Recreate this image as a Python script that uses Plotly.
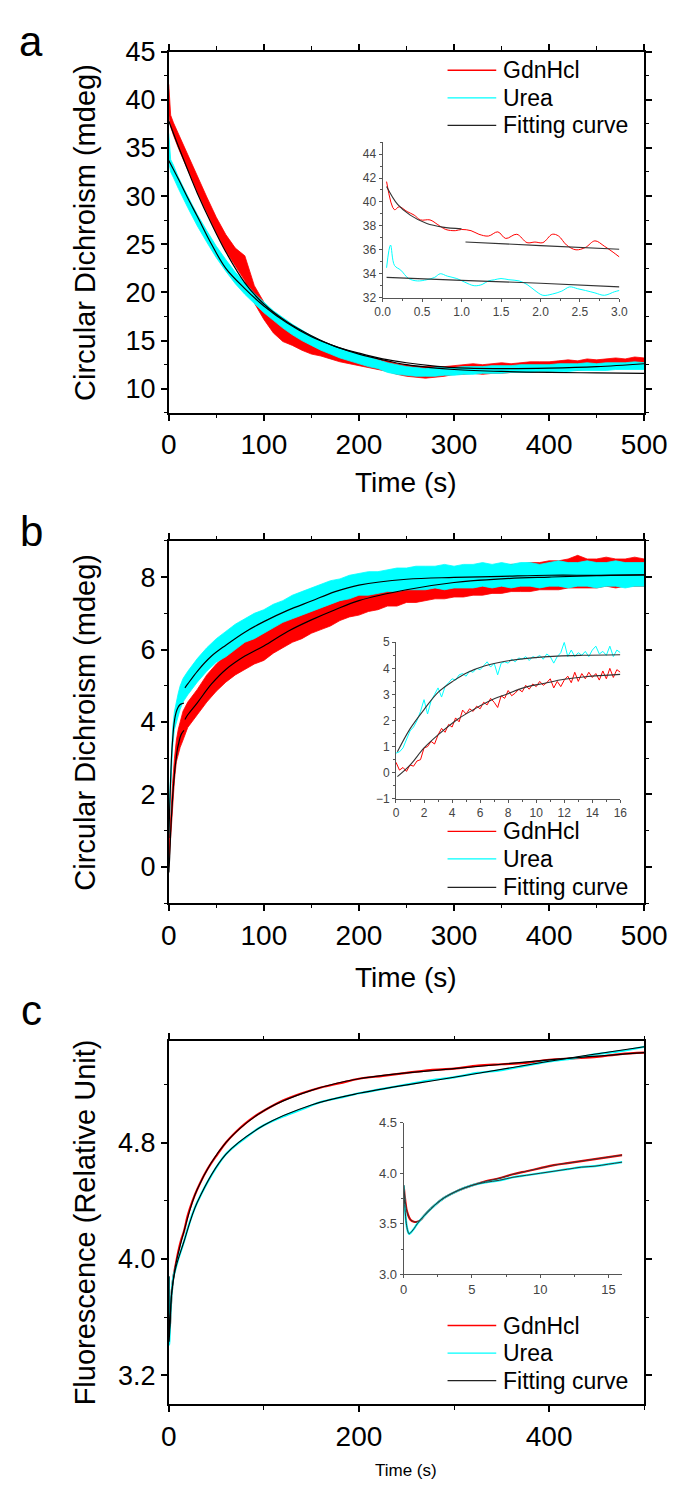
import plotly.graph_objects as go

# ---------------- DATA ----------------
# Panel a (CD, mdeg): noisy traces read as lower / upper envelope of the noise band
t_a = [0, 1, 2, 5] + list(range(10, 510, 10))
gdn_a_lo = [38.5, 37.5, 37.2, 36.3,
            35.0, 32.7, 30.4, 28.3, 26.2, 24.3, 22.8, 21.2, 18.9, 17.2,
            15.8, 14.9, 14.5, 14.0, 13.6, 13.4, 13.1, 12.8, 12.6, 12.4,
            12.2, 12.0, 11.8, 11.5, 11.3, 11.2, 11.1, 11.2, 11.3, 11.5,
            11.5, 11.6, 11.5, 11.6, 11.6, 11.7, 11.7, 11.7, 11.8, 11.8,
            11.9, 11.9, 11.9, 12.0, 12.1, 12.1, 12.2, 12.2, 12.3, 12.3]
gdn_a_hi = [41.6, 39.0, 38.4, 37.6,
            36.5, 34.3, 32.0, 29.9, 27.8, 26.0, 24.6, 23.8, 20.7, 19.0,
            17.8, 17.0, 16.2, 15.6, 15.0, 14.6, 14.3, 14.0, 13.7, 13.5,
            13.3, 13.1, 12.9, 12.6, 12.5, 12.3, 12.3, 12.3, 12.3, 12.4,
            12.5, 12.6, 12.5, 12.6, 12.7, 12.6, 12.7, 12.8, 12.8, 12.8,
            12.9, 13.0, 12.9, 13.1, 13.0, 13.1, 13.2, 13.1, 13.3, 13.2]
urea_a_lo = [33.5, 32.8, 32.5, 31.9,
             30.8, 28.8, 26.9, 25.2, 23.6, 22.2, 20.9, 19.8, 18.8, 17.9,
             17.1, 16.3, 15.6, 15.0, 14.5, 14.0, 13.6, 13.2, 12.9, 12.6,
             12.3, 12.1, 11.7, 11.5, 11.4, 11.3, 11.3, 11.3, 11.4, 11.4,
             11.5, 11.5, 11.6, 11.6, 11.6, 11.7, 11.7, 11.7, 11.8, 11.8,
             11.8, 11.8, 11.9, 11.9, 11.9, 11.9, 12.0, 12.0, 12.0, 12.0]
urea_a_hi = [36.5, 34.5, 33.8, 33.2,
             32.0, 30.0, 28.1, 26.4, 24.8, 23.4, 22.1, 21.0, 19.9, 19.0,
             18.1, 17.4, 16.7, 16.1, 15.5, 15.0, 14.6, 14.2, 13.9, 13.6,
             13.3, 13.0, 12.7, 12.5, 12.3, 12.2, 12.1, 12.2, 12.2, 12.2,
             12.3, 12.3, 12.3, 12.4, 12.4, 12.4, 12.5, 12.5, 12.5, 12.5,
             12.6, 12.6, 12.6, 12.7, 12.6, 12.7, 12.7, 12.7, 12.8, 12.7]
fit_a_t = [0, 10, 20, 30, 45, 60, 80, 100, 125, 150, 175, 200, 225, 250, 275, 300, 350, 400, 450, 500]
fit_gdn_a = [37.8, 35.2, 32.7, 30.3, 27.1, 24.2, 21.0, 18.8, 16.9, 15.5, 14.4, 13.7, 13.1, 12.7, 12.4, 12.2, 12.1, 12.15, 12.3, 12.6]
fit_urea_a = [33.7, 31.8, 29.8, 27.9, 25.0, 22.5, 20.4, 18.6, 16.8, 15.4, 14.4, 13.6, 13.0, 12.5, 12.2, 12.0, 11.8, 11.7, 11.65, 11.6]

# Panel a inset (0-3 s)
ins_a_gdn_t = [0.05, 0.15, 0.21, 0.31, 0.4, 0.48, 0.6, 0.7, 0.8, 0.92, 1.0, 1.12, 1.22, 1.34, 1.46,
               1.56, 1.7, 1.83, 1.93, 2.03, 2.15, 2.23, 2.33, 2.45, 2.57, 2.69, 2.81, 2.92, 3.0]
ins_a_gdn = [41.7, 39.35, 39.6, 39.2, 38.9, 38.5, 38.5, 38.1, 37.7, 37.6, 37.7, 37.6, 37.3, 37.15, 37.5,
             36.95, 37.3, 36.6, 36.65, 36.6, 37.3, 37.15, 36.4, 36.0, 36.2, 36.75, 36.3, 35.8, 35.4]
ins_a_urea_t = [0.05, 0.1, 0.15, 0.23, 0.33, 0.44, 0.56, 0.66, 0.73, 0.82, 0.94, 1.04, 1.16, 1.26, 1.34, 1.42,
                1.5, 1.6, 1.73, 1.83, 1.93, 2.03, 2.15, 2.27, 2.37, 2.47, 2.57, 2.69, 2.81, 2.94, 3.0]
ins_a_urea = [34.5, 36.4, 34.7, 34.3, 33.6, 33.4, 33.5, 33.7, 34.0, 33.8, 33.6, 33.3, 33.0, 33.1, 33.4, 33.5,
              33.6, 33.5, 33.4, 33.1, 32.6, 32.2, 32.3, 32.55, 32.9, 32.75, 32.6, 32.4, 32.2, 32.5, 32.6]
ins_a_fit_gdn1_t = [0.05, 0.19, 0.35, 0.56, 0.76, 1.0]
ins_a_fit_gdn1 = [41.3, 39.8, 38.9, 38.2, 37.9, 37.75]
ins_a_fit_gdn2_t = [1.05, 2.0, 3.0]
ins_a_fit_gdn2 = [36.65, 36.35, 36.05]
ins_a_fit_urea_t = [0.05, 1.0, 2.0, 3.0]
ins_a_fit_urea = [33.7, 33.45, 33.2, 32.9]

# Panel b main (noise band envelopes)
t_b = [0, 1, 2, 3, 4, 6, 8, 10, 12, 15] + list(range(20, 510, 10))
gdn_b_lo = [0.0, 0.4, 0.9, 1.4, 1.8, 2.4, 2.9, 3.1, 3.3, 3.5,
            3.85, 4.2, 4.55, 4.85, 5.1, 5.3, 5.45, 5.6, 5.7, 5.9,
            6.05, 6.2, 6.3, 6.45, 6.55, 6.65, 6.8, 6.9, 6.95, 7.05,
            7.1, 7.2, 7.2, 7.3, 7.3, 7.35, 7.4, 7.4, 7.45, 7.45,
            7.5, 7.5, 7.55, 7.55, 7.6, 7.6, 7.6, 7.65, 7.65, 7.65,
            7.7, 7.7, 7.7, 7.7, 7.75, 7.7, 7.75, 7.75, 7.75]
gdn_b_hi = [0.4, 0.9, 1.4, 1.9, 2.3, 3.0, 3.5, 3.8, 4.0, 4.3,
            4.55, 4.9, 5.3, 5.6, 5.85, 6.05, 6.25, 6.4, 6.55, 6.7,
            6.85, 7.0, 7.1, 7.2, 7.3, 7.45, 7.55, 7.6, 7.7, 7.8,
            7.85, 7.9, 7.95, 8.0, 8.05, 8.1, 8.1, 8.15, 8.15, 8.2,
            8.25, 8.25, 8.3, 8.3, 8.35, 8.35, 8.4, 8.4, 8.45, 8.45,
            8.5, 8.6, 8.5, 8.5, 8.55, 8.5, 8.5, 8.55, 8.5]
urea_b_lo = [0.9, 1.5, 2.2, 2.8, 3.3, 3.8, 4.0, 4.2, 4.35, 4.55,
             4.75, 5.1, 5.4, 5.65, 5.8, 6.0, 6.2, 6.3, 6.45, 6.6,
             6.75, 6.85, 6.95, 7.05, 7.15, 7.25, 7.35, 7.4, 7.5, 7.5,
             7.55, 7.6, 7.6, 7.65, 7.65, 7.65, 7.7, 7.65, 7.7, 7.7,
             7.7, 7.75, 7.7, 7.75, 7.7, 7.75, 7.75, 7.7, 7.75, 7.75,
             7.7, 7.75, 7.75, 7.7, 7.75, 7.75, 7.7, 7.75, 7.75]
urea_b_hi = [1.4, 2.1, 2.8, 3.4, 3.8, 4.3, 4.6, 4.8, 5.0, 5.2,
             5.4, 5.75, 6.05, 6.3, 6.5, 6.7, 6.85, 7.0, 7.1, 7.25,
             7.35, 7.5, 7.6, 7.7, 7.8, 7.9, 7.95, 8.05, 8.1, 8.15,
             8.15, 8.2, 8.25, 8.25, 8.3, 8.3, 8.3, 8.35, 8.3, 8.35,
             8.35, 8.4, 8.35, 8.4, 8.35, 8.4, 8.4, 8.35, 8.4, 8.45,
             8.4, 8.4, 8.45, 8.4, 8.4, 8.45, 8.4, 8.4, 8.4]
fit_b1_gdn_t = [0.1, 1, 2, 3, 4.4, 5.6, 6.7, 7.9, 9.2, 10.6, 12, 13.5, 16]
fit_b1_gdn = [-0.15, 0.29, 0.95, 1.45, 2.05, 2.44, 2.76, 3.01, 3.27, 3.43, 3.58, 3.68, 3.77]
fit_b1_urea_t = [0.1, 1, 2, 3, 4.1, 5.1, 6.3, 7.9, 9.7, 11.5, 13.3, 16]
fit_b1_urea = [0.8, 1.68, 2.42, 3.08, 3.52, 3.84, 4.09, 4.28, 4.4, 4.47, 4.5, 4.52]
fit_b2_t = [17, 20, 30, 45, 60, 80, 100, 125, 150, 175, 200, 250, 300, 350, 400, 450, 500]
fit_b2_gdn = [4.07, 4.2, 4.53, 5.05, 5.45, 5.82, 6.1, 6.5, 6.82, 7.1, 7.35, 7.65, 7.85, 7.95, 8.0, 8.04, 8.06]
fit_b2_urea = [4.94, 5.05, 5.4, 5.82, 6.12, 6.48, 6.77, 7.08, 7.34, 7.6, 7.78, 7.94, 7.99, 8.02, 8.05, 8.05, 8.06]

# Panel b inset (0-16 s, 0.25 s sampling)
ins_b_t = [i * 0.25 for i in range(65)]
ins_b_urea = [0.75, 0.8, 0.95, 1.3, 1.6, 1.75, 2.0, 2.35, 2.8, 2.25, 2.75, 3.0,
              3.25, 2.9, 3.3, 3.45, 3.6, 3.55, 3.75, 3.8, 3.7, 3.9, 3.85, 4.0,
              3.95, 4.1, 4.25, 4.05, 4.2, 3.75, 4.2, 4.25, 4.2, 4.35, 4.25, 4.4,
              4.35, 4.45, 4.3, 4.45, 4.4, 4.5, 4.35, 4.55, 4.45, 4.2, 4.45, 4.6,
              5.0, 4.45, 4.7, 4.45, 4.6, 4.5, 4.65, 4.45, 4.7, 4.85, 4.55, 4.65,
              4.5, 4.85, 4.45, 4.7, 4.6]
ins_b_gdn = [0.4, 0.1, 0.2, 0.05, 0.3, 0.25, 0.45, 0.5, 0.95, 1.0, 1.2, 1.1,
             1.45, 1.7, 1.55, 1.85, 1.75, 2.1, 1.95, 2.4, 2.25, 2.45, 2.35, 2.55,
             2.45, 2.7, 2.6, 2.85, 2.7, 2.5, 2.95, 2.85, 3.15, 2.95, 3.05, 3.2,
             3.1, 3.35, 3.2, 3.4, 3.3, 3.5, 3.35, 3.45, 3.6, 3.25, 3.5, 3.3,
             3.55, 3.7, 3.45, 3.85, 3.5, 3.8, 3.6, 3.85, 3.65, 3.8, 3.55, 3.9,
             3.6, 4.0, 3.65, 3.95, 3.85]

# Panel c main (fluorescence)
t_c = [0, 0.5, 1, 2, 3, 5, 7, 10, 13, 16, 20, 25, 30, 40, 50, 60, 70, 80, 90, 100,
       120, 140, 160, 180, 200, 225, 250, 275, 300, 325, 350, 375, 400, 425, 450, 475, 500]
gdn_c = [3.88, 3.54, 3.52, 3.65, 3.76, 3.88, 3.95, 4.05, 4.13, 4.19, 4.30, 4.40, 4.48, 4.61, 4.71, 4.80, 4.87, 4.93, 4.98, 5.02,
         5.09, 5.14, 5.18, 5.21, 5.24, 5.26, 5.28, 5.30, 5.31, 5.33, 5.34, 5.35, 5.37, 5.38, 5.39, 5.41, 5.42]
urea_c = [3.88, 3.41, 3.5, 3.65, 3.76, 3.88, 3.93, 4.0, 4.06, 4.12, 4.21, 4.31, 4.39, 4.52, 4.63, 4.72, 4.78, 4.83, 4.88, 4.92,
          4.98, 5.03, 5.08, 5.11, 5.14, 5.17, 5.2, 5.23, 5.25, 5.28, 5.30, 5.33, 5.36, 5.38, 5.41, 5.43, 5.46]
fit_c_t = [0, 0.3, 1, 3, 7, 16, 30, 60, 100, 150, 200, 300, 400, 500]
fit_c_gdn = [3.88, 3.6, 3.52, 3.76, 3.95, 4.19, 4.48, 4.80, 5.02, 5.16, 5.24, 5.31, 5.37, 5.42]
fit_c_urea = [3.88, 3.43, 3.5, 3.76, 3.93, 4.12, 4.39, 4.72, 4.92, 5.06, 5.14, 5.25, 5.36, 5.46]

# Panel c inset (0-16 s)
ins_c_gdn_t = [0, 0.1, 0.25, 0.5, 0.75, 1.0, 1.25, 1.5, 2, 2.5, 3, 4, 5, 6, 7, 8, 9, 10, 11, 12, 13, 14, 15, 16]
ins_c_gdn = [3.88, 3.75, 3.62, 3.54, 3.52, 3.52, 3.54, 3.58, 3.65, 3.71, 3.76, 3.83, 3.88, 3.92, 3.95, 3.99, 4.02, 4.05, 4.08, 4.10, 4.12, 4.14, 4.16, 4.18]
ins_c_urea_t = [0, 0.1, 0.2, 0.3, 0.4, 0.5, 0.75, 1.0, 1.5, 2, 2.5, 3, 4, 5, 6, 7, 8, 9, 10, 11, 12, 13, 14, 15, 16]
ins_c_urea = [3.88, 3.65, 3.5, 3.43, 3.40, 3.41, 3.45, 3.5, 3.58, 3.65, 3.71, 3.76, 3.83, 3.88, 3.91, 3.93, 3.96, 3.98, 4.0, 4.02, 4.04, 4.06, 4.07, 4.09, 4.11]

legend_names = ["GdnHcl", "Urea", "Fitting curve"]
panel_letters = ["a", "b", "c"]
y_titles = ["Circular Dichroism (mdeg)", "Circular Dichroism (mdeg)", "Fluorescence (Relative Unit)"]
x_title = "Time (s)"

# ---------------- STYLE / LAYOUT ----------------
W, H = 685, 1485
FONT = "Liberation Sans, Arial, sans-serif"
RED, CYAN, BLACK = "#ff0000", "#00ffff", "#000000"
INS_GRAY = "#555555"
SERIES_COLORS = [RED, CYAN, "#222222"]


def xd(l, r):
    return [l / W, r / W]


def yd(top, bottom):
    return [1 - bottom / H, 1 - top / H]


fig = go.Figure()


def add(x, y, xa, ya, color, width, shape="linear", fill=None):
    fig.add_trace(go.Scatter(x=x, y=y, xaxis=xa, yaxis=ya, mode="lines",
                             line=dict(color=color, width=width, shape=shape),
                             fill=fill, fillcolor=color if fill else None,
                             showlegend=False, hoverinfo="skip"))


def band(x, lo, hi, xa, ya, color):
    add(x, lo, xa, ya, color, 0.8)
    add(x, hi, xa, ya, color, 0.8, fill="tonexty")


# panel a
band(t_a, gdn_a_lo, gdn_a_hi, "x", "y", RED)
band(t_a, urea_a_lo, urea_a_hi, "x", "y", CYAN)
add(fit_a_t, fit_gdn_a, "x", "y", BLACK, 1.2, "spline")
add(fit_a_t, fit_urea_a, "x", "y", BLACK, 1.2, "spline")
add(ins_a_gdn_t, ins_a_gdn, "x2", "y2", RED, 1, "spline")
add(ins_a_urea_t, ins_a_urea, "x2", "y2", CYAN, 1, "spline")
add(ins_a_fit_gdn1_t, ins_a_fit_gdn1, "x2", "y2", "#333333", 1.1, "spline")
add(ins_a_fit_gdn2_t, ins_a_fit_gdn2, "x2", "y2", "#333333", 1.1, "spline")
add(ins_a_fit_urea_t, ins_a_fit_urea, "x2", "y2", "#333333", 1.1, "spline")

# panel b
band(t_b, gdn_b_lo, gdn_b_hi, "x3", "y4", RED)
band(t_b, urea_b_lo, urea_b_hi, "x3", "y4", CYAN)
add(fit_b2_t, fit_b2_gdn, "x3", "y4", BLACK, 1.2, "spline")
add(fit_b2_t, fit_b2_urea, "x3", "y4", BLACK, 1.2, "spline")
add(fit_b1_gdn_t, fit_b1_gdn, "x3", "y4", BLACK, 1.2, "spline")
add(fit_b1_urea_t, fit_b1_urea, "x3", "y4", BLACK, 1.2, "spline")
add(ins_b_t, ins_b_gdn, "x4", "y5", RED, 1)
add(ins_b_t, ins_b_urea, "x4", "y5", CYAN, 1)
add(fit_b1_gdn_t, fit_b1_gdn, "x4", "y5", "#333333", 1.1, "spline")
add(fit_b1_urea_t, fit_b1_urea, "x4", "y5", "#333333", 1.1, "spline")

# panel c
add(t_c, gdn_c, "x5", "y7", RED, 2.2, "spline")
add(t_c, urea_c, "x5", "y7", CYAN, 2.2, "spline")
add(fit_c_t, fit_c_gdn, "x5", "y7", BLACK, 1.1, "spline")
add(fit_c_t, fit_c_urea, "x5", "y7", BLACK, 1.1, "spline")
add(ins_c_gdn_t, ins_c_gdn, "x6", "y8", RED, 2.2, "spline")
add(ins_c_urea_t, ins_c_urea, "x6", "y8", CYAN, 2.2, "spline")
add(ins_c_gdn_t, ins_c_gdn, "x6", "y8", "#333333", 1, "spline")
add(ins_c_urea_t, ins_c_urea, "x6", "y8", "#333333", 1, "spline")


def main_x(domain, anchor, dtick, minor):
    return dict(domain=domain, anchor=anchor, range=[0, 500], tickmode="linear", tick0=0, dtick=dtick,
                ticks="outside", ticklen=6, tickwidth=1.5, tickcolor=BLACK,
                minor=dict(dtick=minor, ticks="outside", ticklen=3.5, tickwidth=1.2, tickcolor=BLACK),
                showline=True, linecolor=BLACK, linewidth=1.5, mirror="ticks",
                showgrid=False, zeroline=False,
                tickfont=dict(size=28, family=FONT, color=BLACK))


def main_y(domain, anchor, rng, tick0, dtick, minor, fmt=None):
    d = dict(domain=domain, anchor=anchor, range=rng, tickmode="linear", tick0=tick0, dtick=dtick,
             ticks="outside", ticklen=6, tickwidth=1.5, tickcolor=BLACK,
             minor=dict(dtick=minor, tick0=tick0, ticks="outside", ticklen=3.5, tickwidth=1.2, tickcolor=BLACK),
             showline=True, linecolor=BLACK, linewidth=1.5, mirror="ticks",
             showgrid=False, zeroline=False,
             tickfont=dict(size=27, family=FONT, color=BLACK))
    if fmt:
        d["tickformat"] = fmt
    return d


def ins_x(domain, anchor, rng, dtick, minor, fmt=None, size=12):
    d = dict(domain=domain, anchor=anchor, range=rng, tickmode="linear", tick0=0, dtick=dtick,
             ticks="outside", ticklen=3, tickwidth=1, tickcolor=INS_GRAY,
             minor=dict(dtick=minor, ticks="outside", ticklen=2, tickwidth=1, tickcolor=INS_GRAY),
             showline=True, linecolor=INS_GRAY, linewidth=1, mirror=False,
             showgrid=False, zeroline=False,
             tickfont=dict(size=size, family=FONT, color="#444444"))
    if fmt:
        d["tickformat"] = fmt
    return d


def ins_y(domain, anchor, rng, tick0, dtick, minor, fmt=None, size=12):
    d = dict(domain=domain, anchor=anchor, range=rng, tickmode="linear", tick0=tick0, dtick=dtick,
             ticks="outside", ticklen=3, tickwidth=1, tickcolor=INS_GRAY,
             minor=dict(dtick=minor, tick0=tick0, ticks="outside", ticklen=2, tickwidth=1, tickcolor=INS_GRAY),
             showline=True, linecolor=INS_GRAY, linewidth=1,
             showgrid=False, zeroline=False,
             tickfont=dict(size=size, family=FONT, color="#444444"))
    if fmt:
        d["tickformat"] = fmt
    return d


def ins_right(over, anchor, rng, tick0, dtick):
    return dict(overlaying=over, side="right", anchor=anchor, range=rng, tickmode="linear", tick0=tick0,
                dtick=dtick, ticks="inside", ticklen=3, tickwidth=1, tickcolor=INS_GRAY,
                showline=True, linecolor=INS_GRAY, linewidth=1, showticklabels=False,
                showgrid=False, zeroline=False)


A = (29, 396)
B = (526, 894)
C = (1034, 1403)
XL, XR = 160, 658

layout = dict(
    width=W, height=H, autosize=False, showlegend=False,
    margin=dict(l=0, r=0, t=0, b=0),
    paper_bgcolor="white", plot_bgcolor="rgba(0,0,0,0)",
    font=dict(family=FONT, color=BLACK),
    xaxis=main_x(xd(XL, XR), "y", 100, 50),
    yaxis=main_y(yd(*A), "x", [7.5, 45], 10, 5, 2.5),
    xaxis2=ins_x(xd(384, 632), "y2", [0, 3], 0.5, 0.25, ".1f"),
    yaxis2=ins_y(yd(121, 279), "x2", [32, 45], 32, 2, 1),
    yaxis3=ins_right("y2", "x2", [32, 45], 32, 1),
    xaxis3=main_x(xd(XL, XR), "y4", 100, 50),
    yaxis4=main_y(yd(*B), "x3", [-1, 9], 0, 2, 1),
    xaxis4=ins_x(xd(398, 633), "y5", [0, 16], 2, 1),
    yaxis5=ins_y(yd(629, 788), "x4", [-1, 5], -1, 1, 0.5),
    yaxis6=ins_right("y5", "x4", [-1, 5], -1, 1),
    xaxis5=main_x(xd(XL, XR), "y7", 200, 100),
    yaxis7=main_y(yd(*C), "x5", [3.0, 5.5], 3.2, 0.8, 0.4, ".1f"),
    xaxis6=ins_x(xd(406, 635), "y8", [0, 16], 5, 2.5, size=13),
    yaxis8=ins_y(yd(1117, 1271), "x6", [3.0, 4.5], 3.0, 0.5, 0.25, ".1f", size=13),
    yaxis9=ins_right("y8", "x6", [3.0, 4.5], 3.0, 0.25),
)

ann = []
shapes = []
for letter, yc in zip(panel_letters, [19, 517, 1003]):
    ann.append(dict(text=letter, x=16 / W, y=1 - yc / H, xref="paper", yref="paper",
                    xanchor="center", yanchor="middle", showarrow=False,
                    font=dict(size=42, family=FONT, color=BLACK)))
for title, (top, bot) in zip(y_titles, [A, B, C]):
    ann.append(dict(text=title, x=72 / W, y=1 - (top + bot) / 2 / H, xref="paper", yref="paper",
                    xanchor="center", yanchor="middle", textangle=-90, showarrow=False,
                    font=dict(size=29, family=FONT, color=BLACK)))
for yc, size in zip([467, 970, 1470], [28, 28, 17]):
    ann.append(dict(text=x_title, x=(XL + XR) / 2 / W, y=1 - yc / H, xref="paper", yref="paper",
                    xanchor="center", yanchor="middle", showarrow=False,
                    font=dict(size=size, family=FONT, color=BLACK)))

# legends (one per panel): sample line + label
for rows in ([48, 76, 104], [821, 849, 878], [1323, 1351, 1379]):
    for name, color, yc in zip(legend_names, SERIES_COLORS, rows):
        shapes.append(dict(type="line", xref="paper", yref="paper",
                           x0=452 / W, x1=503 / W, y0=1 - yc / H, y1=1 - yc / H,
                           line=dict(color=color, width=1.3)))
        ann.append(dict(text=name, x=508 / W, y=1 - yc / H, xref="paper", yref="paper",
                        xanchor="left", yanchor="middle", showarrow=False,
                        font=dict(size=23, family=FONT, color=BLACK)))

layout["annotations"] = ann
layout["shapes"] = shapes

fig.update_layout(**layout)
fig.write_html("out.html")
